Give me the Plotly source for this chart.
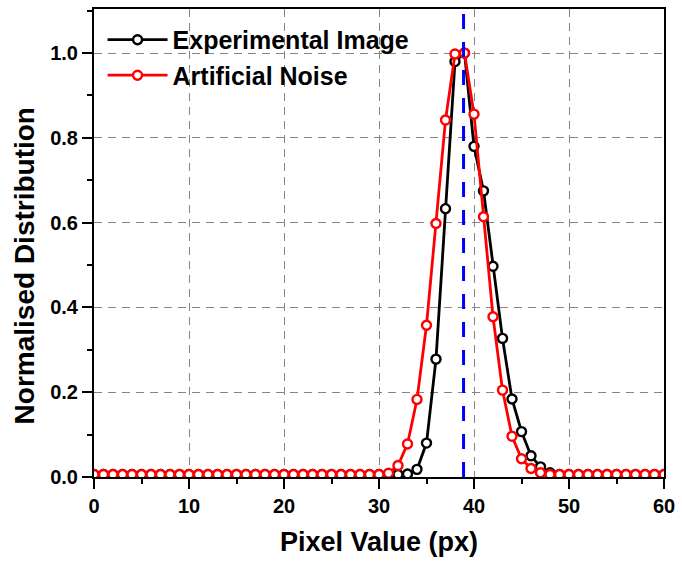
import plotly.graph_objects as go

# Pixel values 0..60
pixel_values = list(range(61))

# Normalised histogram of the experimental image
experimental = [0.006] * 32 + [
    0.006, 0.007, 0.018, 0.08, 0.278, 0.633, 0.98, 1.0, 0.78, 0.675,   # 32..41
    0.497, 0.327, 0.184, 0.107, 0.05, 0.024, 0.01,                      # 42..48
] + [0.006] * 12

# Normalised histogram of the artificial noise
artificial = [0.006] * 31 + [
    0.009, 0.027, 0.078, 0.183, 0.358, 0.598, 0.842, 0.998, 1.0, 0.856,  # 31..40
    0.614, 0.378, 0.205, 0.096, 0.043, 0.02, 0.01,                      # 41..47
] + [0.006] * 13

peak_position = 38.9

FONT = "Liberation Sans, Arial, Helvetica, sans-serif"

fig = go.Figure()

fig.add_trace(go.Scatter(
    x=pixel_values, y=experimental, name="Experimental Image",
    mode="lines+markers",
    line=dict(color="black", width=2.8),
    marker=dict(symbol="circle", size=9, color="white",
                line=dict(color="black", width=2.4)),
))
fig.add_trace(go.Scatter(
    x=pixel_values, y=artificial, name="Artificial Noise",
    mode="lines+markers",
    line=dict(color="red", width=2.8),
    marker=dict(symbol="circle", size=9, color="white",
                line=dict(color="red", width=2.4)),
))

# Peak marker line
fig.add_shape(type="line", xref="x", yref="paper",
              x0=peak_position, x1=peak_position, y0=0, y1=1,
              line=dict(color="blue", width=3, dash="15px,13px"), layer="above")

axis_common = dict(
    showline=True, linecolor="black", linewidth=2, mirror=True,
    ticks="outside", ticklen=10, tickwidth=1.5, tickcolor="black",
    showgrid=True, gridcolor="#858585", griddash="8px,6px", gridwidth=1.4,
    zeroline=False,
    tickfont=dict(family=FONT, size=20, color="black", weight="bold"),
)

fig.update_xaxes(
    range=[0, 60], dtick=10, tick0=0,
    minor=dict(dtick=5, ticks="outside", ticklen=5, tickwidth=1.5,
               tickcolor="black", showgrid=False),
    title=dict(text="Pixel Value (px)", standoff=16,
               font=dict(family=FONT, size=27, color="black", weight="bold")),
    **axis_common,
)
fig.update_yaxes(
    range=[0, 1.104], dtick=0.2, tick0=0, tickformat=".1f",
    minor=dict(dtick=0.1, ticks="outside", ticklen=5, tickwidth=1.5,
               tickcolor="black", showgrid=False),
    **axis_common,
)

# Y-axis title, placed slightly below the centre of the plot area
fig.add_annotation(
    text="Normalised Distribution", textangle=-90,
    xref="paper", yref="paper", x=-0.122, y=0.451,
    xanchor="center", yanchor="middle", showarrow=False,
    font=dict(family=FONT, size=28, color="black", weight="bold"),
)

fig.update_layout(
    width=682, height=561,
    margin=dict(l=94, r=13, t=7, b=84),
    plot_bgcolor="white", paper_bgcolor="white",
    showlegend=True,
    legend=dict(
        x=0.015, y=0.983, xanchor="left", yanchor="top",
        bgcolor="rgba(0,0,0,0)", borderwidth=0,
        font=dict(family=FONT, size=25, color="black", weight="bold"),
        itemwidth=60, tracegroupgap=0,
    ),
)

fig.write_html("out.html")
